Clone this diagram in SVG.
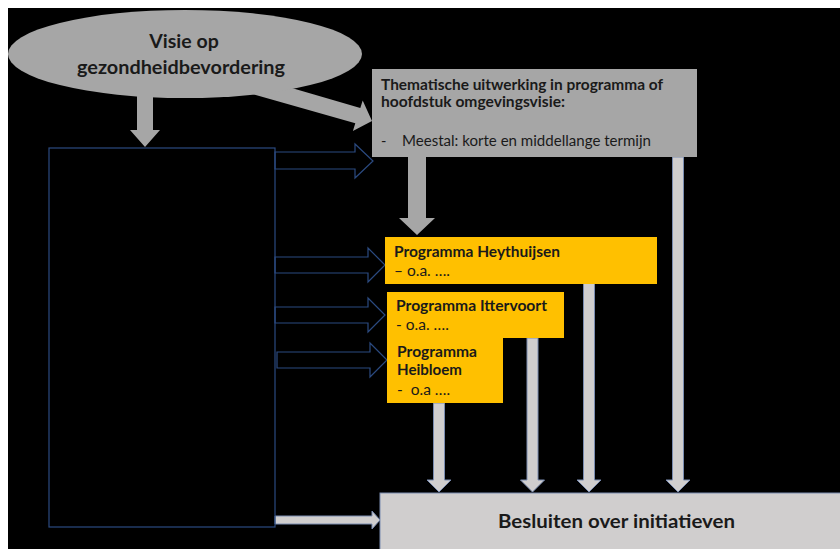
<svg xmlns="http://www.w3.org/2000/svg" width="840" height="549" viewBox="0 0 840 549">
  <style>
    .t { font-family: Lato, "Liberation Sans", sans-serif; fill: #1a1a1a; }
    .b { font-weight: bold; }
    .outl { fill: #000; stroke: #2b4a80; stroke-width: 1.2; }
    .lg { fill: #d0cece; stroke: #7a8cb0; stroke-width: 1; }
    .dg { fill: #a6a6a6; }
    .yel { fill: #ffc000; }
  </style>
  <rect x="0" y="0" width="840" height="549" fill="#ffffff"/>
  <rect x="8" y="8" width="832" height="541" fill="#000000"/>

  <g id="connectors">
    <!-- from ellipse down to left block -->
    <polygon class="dg" points="137,90 153,90 153,130 160,130 145,147 130,130 137,130"/>
    <!-- diagonal from ellipse to thematic box -->
    <polygon class="dg" points="228,87 233,71 360.3,108.1 362.7,100.5 372,121 352.9,130.9 355.3,123.3"/>
    <!-- from thematic box down to Heythuijsen -->
    <polygon class="dg" points="408,156 426,156 426,218 435,218 417,235 399,218 408,218"/>
    <!-- outline arrows from left block -->
    <polygon class="outl" points="275,152 355,152 355,144 373,161 355,178 355,169 275,169"/>
    <polygon class="outl" points="275,257 368,257 368,248 385,265 368,282 368,273 275,273"/>
    <polygon class="outl" points="275,307 368,307 368,298 385,315 368,332 368,323 275,323"/>
    <polygon class="outl" points="277,352 370,352 370,343 387,360 370,377 370,368 277,368"/>
    <!-- bottom arrow left block to Besluiten -->
    <polygon class="lg" points="275,516 372,516 372,511 380,520 372,529 372,524 275,524"/>
    <!-- vertical arrows down to Besluiten -->
    <polygon class="lg" points="433.5,403 444.5,403 444.5,480 451,480 439,492 427,480 433.5,480"/>
    <polygon class="lg" points="527,338 538,338 538,480 544.5,480 532.5,492 520.5,480 527,480"/>
    <polygon class="lg" points="583.5,283 594.5,283 594.5,480 601,480 589,492 577,480 583.5,480"/>
    <polygon class="lg" points="672.5,157 683.5,157 683.5,480 690,480 678,492 666,480 672.5,480"/>
  </g>

  <g id="visie">
    <ellipse class="dg" cx="185" cy="54" rx="177" ry="44"/>
    <text class="t b" x="184" y="48" font-size="19.5" text-anchor="middle">Visie op</text>
    <text class="t b" x="181" y="74" font-size="19.5" text-anchor="middle" textLength="208" lengthAdjust="spacingAndGlyphs">gezondheidbevordering</text>
  </g>

  <g id="linkerblok">
    <rect x="49" y="148" width="226" height="379" fill="none" stroke="#2b4a80" stroke-width="1.2"/>
  </g>

  <g id="thematisch">
    <rect class="dg" x="372" y="69" width="325" height="88"/>
    <text class="t b" x="381" y="90" font-size="14.5" textLength="282" lengthAdjust="spacingAndGlyphs">Thematische uitwerking in programma of</text>
    <text class="t b" x="381" y="107" font-size="14.5" textLength="184" lengthAdjust="spacingAndGlyphs">hoofdstuk omgevingsvisie:</text>
    <text class="t" x="381" y="146" font-size="14.5">-</text>
    <text class="t" x="402" y="146" font-size="14.5" textLength="249" lengthAdjust="spacingAndGlyphs">Meestal: korte en middellange termijn</text>
  </g>

  <g id="heythuijsen">
    <rect class="yel" x="385" y="237" width="272" height="47"/>
    <text class="t b" x="394" y="257" font-size="14.5" textLength="166" lengthAdjust="spacingAndGlyphs">Programma Heythuijsen</text>
    <text class="t" x="394" y="276" font-size="15.5">– o.a. ….</text>
  </g>

  <g id="heibloem">
    <rect class="yel" x="387" y="330" width="116" height="73"/>
    <text class="t b" x="397" y="357" font-size="14.5" textLength="80" lengthAdjust="spacingAndGlyphs">Programma</text>
    <text class="t b" x="397" y="375" font-size="14.5" textLength="65" lengthAdjust="spacingAndGlyphs">Heibloem</text>
    <text class="t" x="397" y="395" font-size="15.5" xml:space="preserve">-  o.a ….</text>
  </g>

  <g id="ittervoort">
    <rect class="yel" x="387" y="292" width="177" height="46"/>
    <text class="t b" x="396" y="311" font-size="14.5" textLength="151" lengthAdjust="spacingAndGlyphs">Programma Ittervoort</text>
    <text class="t" x="396" y="330" font-size="15.5">- o.a. ….</text>
  </g>

  <g id="besluiten">
    <rect class="lg" x="380" y="493" width="470" height="60"/>
    <text class="t b" x="616.5" y="528" font-size="18" text-anchor="middle" textLength="237" lengthAdjust="spacingAndGlyphs">Besluiten over initiatieven</text>
  </g>
</svg>
